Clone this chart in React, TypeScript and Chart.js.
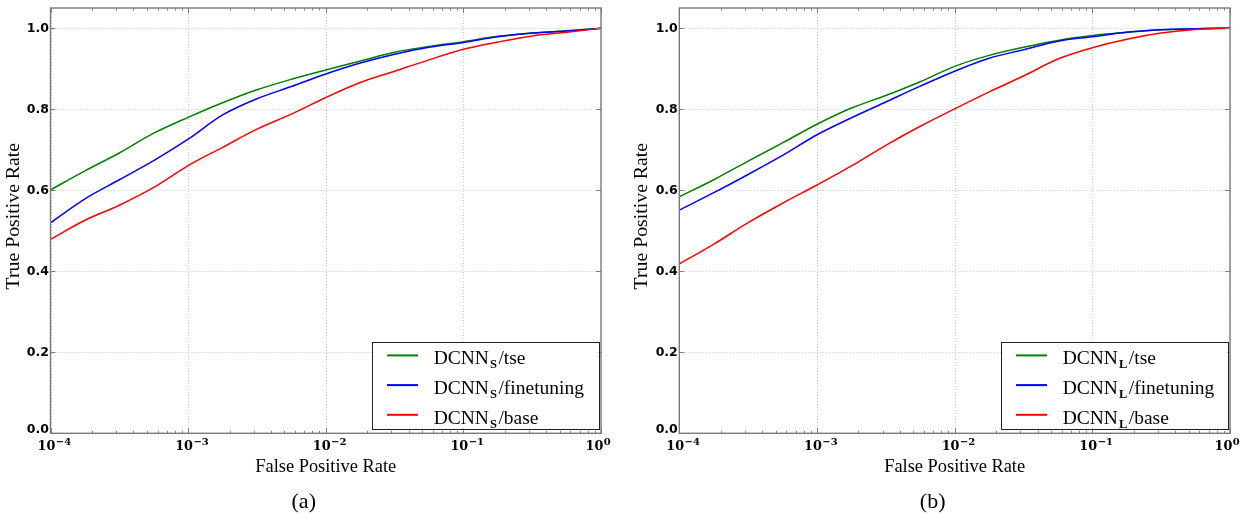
import React, { useEffect, useRef } from "react";
import { Chart, registerables } from "chart.js";

Chart.register(...registerables);

// False positive rates (shared sampling positions along the log axis)
const FPR = [0.0001, 0.000178, 0.000316, 0.000562, 0.001, 0.00178, 0.00316, 0.00562, 0.01, 0.0178, 0.0316, 0.0562, 0.1, 0.178, 0.316, 0.562, 1];

// Panel (a): DCNN_S
const TSE_S = [0.601, 0.648, 0.692, 0.741, 0.78, 0.816, 0.848, 0.874, 0.897, 0.919, 0.941, 0.955, 0.967, 0.98, 0.988, 0.994, 1.0];
const FINETUNING_S = [0.52, 0.579, 0.626, 0.673, 0.726, 0.786, 0.826, 0.856, 0.887, 0.914, 0.936, 0.953, 0.965, 0.979, 0.988, 0.993, 1.0];
const BASE_S = [0.479, 0.526, 0.563, 0.607, 0.661, 0.706, 0.751, 0.788, 0.829, 0.866, 0.894, 0.922, 0.948, 0.966, 0.981, 0.99, 1.0];

// Panel (b): DCNN_L
const TSE_L = [0.584, 0.626, 0.672, 0.717, 0.763, 0.803, 0.834, 0.868, 0.906, 0.933, 0.953, 0.97, 0.982, 0.99, 0.996, 0.999, 1.0];
const FINETUNING_L = [0.551, 0.594, 0.639, 0.686, 0.737, 0.779, 0.818, 0.857, 0.894, 0.926, 0.947, 0.968, 0.979, 0.99, 0.996, 0.999, 1.0];
const BASE_L = [0.418, 0.467, 0.52, 0.568, 0.613, 0.66, 0.711, 0.758, 0.801, 0.843, 0.882, 0.924, 0.952, 0.973, 0.988, 0.997, 1.0];

const X_EXPONENTS = [-4, -3, -2, -1, 0];
const Y_TICKS = [0, 0.2, 0.4, 0.6, 0.8, 1.0];
const SERIES_SUFFIXES = ["tse", "finetuning", "base"];
const SERIES_COLORS = ["#008000", "#0000ff", "#ff0000"];
const X_TITLE = "False Positive Rate";
const Y_TITLE = "True Positive Rate";
const SUBSCRIPTS = ["S", "L"];
const CAPTIONS = ["(a)", "(b)"];

const H = 513;
const PLOT_TOP = 8;
const PLOT_BOTTOM = 433.3;

type PanelSpec = {
  left: number;
  width: number;
  plotLeft: number;
  plotRight: number;
  sub: string;
  caption: string;
  series: number[][];
};

const PANELS: PanelSpec[] = [
  { left: 0, width: 620, plotLeft: 50.5, plotRight: 601, sub: SUBSCRIPTS[0], caption: CAPTIONS[0], series: [TSE_S, FINETUNING_S, BASE_S] },
  { left: 620, width: 627, plotLeft: 59.3, plotRight: 610, sub: SUBSCRIPTS[1], caption: CAPTIONS[1], series: [TSE_L, FINETUNING_L, BASE_L] },
];

function makeDecor(p: PanelSpec) {
  return {
    id: "rocDecor",
    beforeDatasetsDraw(chart: any) {
      const { ctx, chartArea: a, scales } = chart;
      const x = scales.x;
      const y = scales.y;
      ctx.save();
      ctx.strokeStyle = "#c6c6c6";
      ctx.lineWidth = 1;
      ctx.setLineDash([1, 2]);
      ctx.beginPath();
      for (const e of X_EXPONENTS) {
        const px = Math.round(x.getPixelForValue(Math.pow(10, e))) + 0.5;
        ctx.moveTo(px, a.top);
        ctx.lineTo(px, a.bottom);
      }
      for (const v of Y_TICKS) {
        const py = Math.round(y.getPixelForValue(v)) + 0.5;
        ctx.moveTo(a.left, py);
        ctx.lineTo(a.right, py);
      }
      ctx.stroke();
      ctx.restore();
    },
    afterDraw(chart: any) {
      const { ctx, chartArea: a, scales } = chart;
      const x = scales.x;
      const y = scales.y;
      ctx.save();

      // ticks
      ctx.strokeStyle = "#808080";
      ctx.lineWidth = 1;
      ctx.beginPath();
      for (let e = -4; e < 0; e++) {
        for (let k = 2; k <= 9; k++) {
          const px = Math.round(x.getPixelForValue(k * Math.pow(10, e))) + 0.5;
          ctx.moveTo(px, a.bottom);
          ctx.lineTo(px, a.bottom - 2.5);
          ctx.moveTo(px, a.top);
          ctx.lineTo(px, a.top + 2.5);
        }
      }
      for (const e of X_EXPONENTS) {
        const px = Math.round(x.getPixelForValue(Math.pow(10, e))) + 0.5;
        ctx.moveTo(px, a.bottom);
        ctx.lineTo(px, a.bottom - 5);
        ctx.moveTo(px, a.top);
        ctx.lineTo(px, a.top + 5);
      }
      for (const v of Y_TICKS) {
        const py = Math.round(y.getPixelForValue(v)) + 0.5;
        ctx.moveTo(a.left, py);
        ctx.lineTo(a.left + 5, py);
        ctx.moveTo(a.right, py);
        ctx.lineTo(a.right - 5, py);
      }
      ctx.stroke();

      // frame
      ctx.strokeStyle = "#7a7a7a";
      ctx.lineWidth = 1.4;
      ctx.strokeRect(a.left, a.top, a.right - a.left, a.bottom - a.top);

      // y tick labels
      ctx.fillStyle = "#000";
      ctx.font = 'bold 12.5px "DejaVu Sans"';
      ctx.textAlign = "right";
      for (const v of Y_TICKS) {
        const py = y.getPixelForValue(v);
        if (v === 0) {
          ctx.textBaseline = "alphabetic";
          ctx.fillText(v.toFixed(1), a.left - 1.5, a.bottom);
        } else {
          ctx.textBaseline = "middle";
          ctx.fillText(v.toFixed(1), a.left - 1.5, py + 0.5);
        }
      }

      // x tick labels: 10^e
      ctx.textAlign = "left";
      ctx.textBaseline = "alphabetic";
      for (const e of X_EXPONENTS) {
        const px = x.getPixelForValue(Math.pow(10, e));
        const left = e < 0 ? px - 13 : px - 15.5;
        ctx.font = 'bold 12.8px "DejaVu Serif"';
        ctx.fillText("10", left, a.bottom + 16.7);
        const w = ctx.measureText("10").width;
        ctx.font = 'bold 10px "DejaVu Serif"';
        const sup = e < 0 ? "\u2212" + Math.abs(e) : String(e);
        ctx.fillText(sup, left + w + 0.5, a.bottom + 11.7);
      }

      // axis titles
      const cx = (a.left + a.right) / 2;
      ctx.textAlign = "center";
      ctx.font = '18.4px "Liberation Serif"';
      ctx.fillText(X_TITLE, cx, a.bottom + 38.4);

      ctx.save();
      ctx.translate(a.left - 37, (a.top + a.bottom) / 2 - 4.5);
      ctx.rotate(-Math.PI / 2);
      ctx.textBaseline = "middle";
      ctx.font = '19.8px "Liberation Serif"';
      ctx.fillText(Y_TITLE, 0, 0);
      ctx.restore();

      // caption
      ctx.font = '22px "Liberation Serif"';
      ctx.textAlign = "center";
      ctx.textBaseline = "alphabetic";
      ctx.fillText(p.caption, cx - 22, a.bottom + 74.7);

      // legend
      const lw = 226.5;
      const lh = 86.6;
      const lr = a.right - 2.5;
      const lb = a.bottom - 5;
      const ll = lr - lw;
      const lt = lb - lh;
      ctx.fillStyle = "#fff";
      ctx.fillRect(ll, lt, lw, lh);
      ctx.strokeStyle = "#222";
      ctx.lineWidth = 1;
      ctx.strokeRect(Math.round(ll) + 0.5, Math.round(lt) + 0.5, Math.round(lw), Math.round(lh));
      ctx.textAlign = "left";
      for (let i = 0; i < SERIES_SUFFIXES.length; i++) {
        const ly = lt + 13.7 + i * 29.7;
        ctx.strokeStyle = SERIES_COLORS[i];
        ctx.lineWidth = 2;
        ctx.beginPath();
        ctx.moveTo(ll + 15, ly);
        ctx.lineTo(ll + 46, ly);
        ctx.stroke();
        ctx.fillStyle = "#000";
        let tx = ll + 61.7;
        const base = ly + 9;
        ctx.font = '19.5px "Liberation Serif"';
        ctx.fillText("DCNN", tx, base);
        tx += ctx.measureText("DCNN").width + 1;
        ctx.font = 'bold 12.5px "Liberation Serif"';
        ctx.fillText(p.sub, tx, base + 4);
        tx += ctx.measureText(p.sub).width + 1.5;
        ctx.font = '19.5px "Liberation Serif"';
        ctx.fillText("/" + SERIES_SUFFIXES[i], tx, base);
      }

      ctx.restore();
    },
  };
}

function Panel({ p }: { p: PanelSpec }) {
  const ref = useRef<HTMLCanvasElement | null>(null);
  useEffect(() => {
    if (!ref.current) return;
    const datasets = p.series.map((vals, i) => ({
      label: "DCNN" + p.sub + "/" + SERIES_SUFFIXES[i],
      data: FPR.map((f, j) => ({ x: f, y: vals[j] })),
      borderColor: SERIES_COLORS[i],
      backgroundColor: SERIES_COLORS[i],
      borderWidth: 1.5,
      pointRadius: 0,
      fill: false,
      cubicInterpolationMode: "monotone" as const,
      order: SERIES_SUFFIXES.length - i,
    }));
    const chart = new Chart(ref.current, {
      type: "line",
      data: { datasets },
      options: {
        animation: false,
        responsive: false,
        devicePixelRatio: 1,
        layout: { padding: { top: PLOT_TOP, right: p.width - p.plotRight, left: 0, bottom: 0 } },
        plugins: { legend: { display: false }, tooltip: { enabled: false }, title: { display: false } },
        scales: {
          x: {
            type: "logarithmic",
            min: 0.0001,
            max: 1,
            ticks: { display: false },
            grid: { display: false },
            border: { display: false },
            afterFit: (s: any) => {
              s.height = H - PLOT_BOTTOM;
            },
          },
          y: {
            type: "linear",
            min: 0,
            max: 1.05,
            ticks: { display: false },
            grid: { display: false },
            border: { display: false },
            afterFit: (s: any) => {
              s.width = p.plotLeft;
            },
          },
        },
      },
      plugins: [makeDecor(p)],
    } as any);
    return () => chart.destroy();
  }, [p]);
  return (
    <canvas
      ref={ref}
      width={p.width}
      height={H}
      style={{ position: "absolute", left: p.left, top: 0, width: p.width, height: H }}
    />
  );
}

export default function App() {
  return (
    <div style={{ position: "fixed", left: 0, top: 0, width: 1247, height: H, background: "#fff" }}>
      {PANELS.map((p, i) => (
        <Panel key={i} p={p} />
      ))}
    </div>
  );
}
